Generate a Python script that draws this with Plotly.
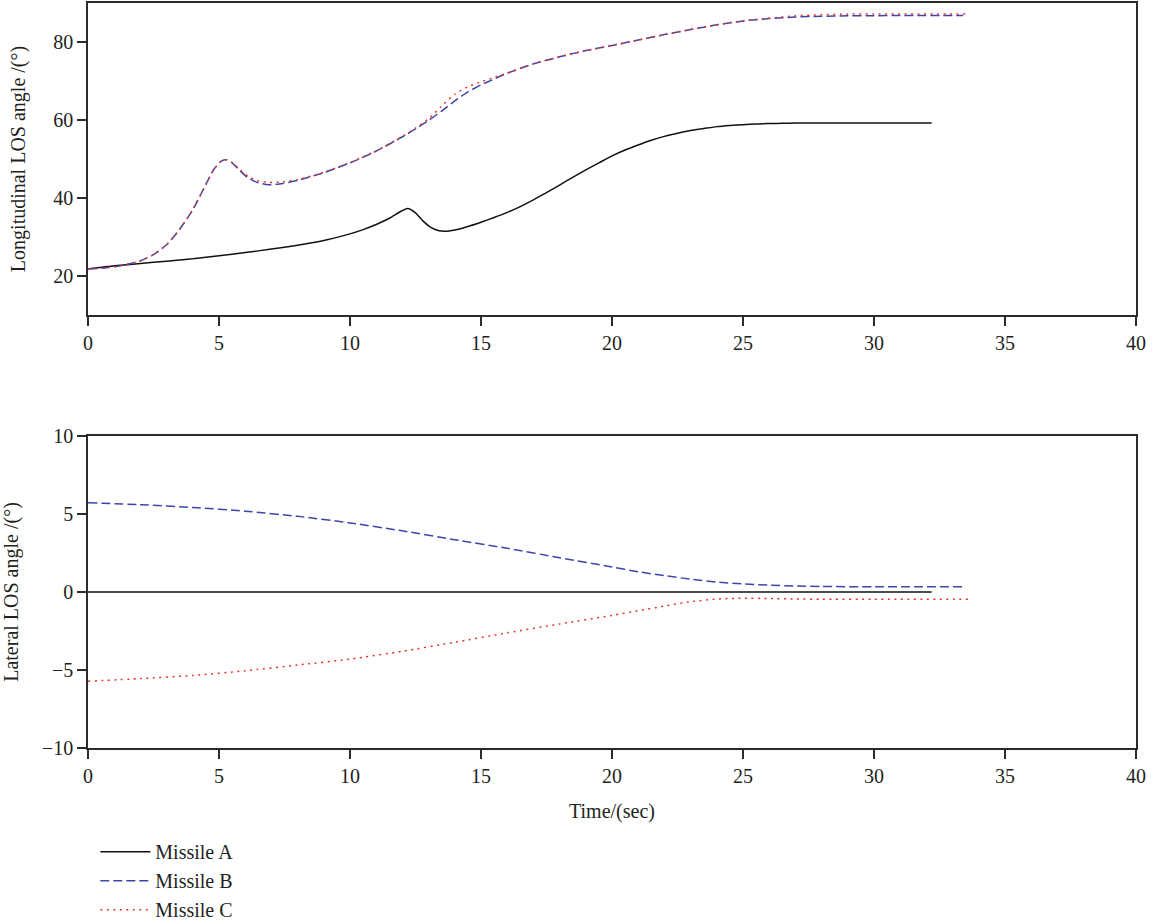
import plotly.graph_objects as go
from plotly.subplots import make_subplots

# ---------------- data ----------------
# Longitudinal LOS angle (deg)
t_a_lon = [0, 1, 2, 3, 4, 5, 6, 7, 8, 9, 10, 10.5, 11, 11.5, 12, 12.2, 12.5, 12.8, 13.1, 13.4,
           13.7, 14, 14.5, 15, 15.5, 16, 16.5, 17, 17.5, 18, 18.5, 19, 19.5, 20, 20.5, 21,
           21.5, 22, 22.5, 23, 23.5, 24, 24.5, 25, 25.5, 26, 26.5, 27, 28, 29, 30, 31, 32.2]
a_lon = [21.8, 22.6, 23.2, 23.8, 24.4, 25.2, 26.0, 26.9, 27.9, 29.1, 30.8, 31.9, 33.2, 34.8,
         36.8, 37.3, 36.2, 34.0, 32.4, 31.6, 31.5, 31.8, 32.7, 33.8, 35.0, 36.3, 37.8, 39.5,
         41.4, 43.3, 45.3, 47.2, 49.0, 50.8, 52.3, 53.6, 54.8, 55.8, 56.6, 57.3, 57.8, 58.3,
         58.6, 58.8, 59.0, 59.1, 59.15, 59.2, 59.2, 59.2, 59.2, 59.2, 59.2]

t_b_lon = [0, 0.5, 1, 1.5, 2, 2.5, 3, 3.5, 4, 4.5, 4.8, 5.1, 5.3, 5.5, 5.8, 6.1, 6.5, 6.9, 7.3,
           8, 9, 10, 11, 12, 12.5, 13, 13.5, 14, 14.5, 15, 15.5, 16, 17, 18, 19, 20, 21, 22,
           23, 24, 25, 26, 27, 28, 29, 30, 31, 33.4]
b_lon = [21.8, 22.0, 22.4, 23.0, 23.9, 25.5, 28.0, 32.0, 37.0, 43.5, 47.3, 49.5, 49.8, 49.0,
         47.0, 45.2, 43.9, 43.4, 43.6, 44.5, 46.5, 49.0, 52.0, 55.7, 57.7, 59.9, 62.3, 64.9,
         67.2, 69.0, 70.5, 72.0, 74.4, 76.2, 77.8, 79.1, 80.5, 81.9, 83.2, 84.4, 85.4, 86.0,
         86.4, 86.6, 86.7, 86.75, 86.8, 86.8]

t_c_lon = [0, 0.5, 1, 1.5, 2, 2.5, 3, 3.5, 4, 4.5, 4.8, 5.1, 5.3, 5.5, 5.8, 6.1, 6.5, 6.9, 7.3,
           8, 9, 10, 11, 12, 12.5, 13, 13.5, 14, 14.5, 15, 15.5, 16, 17, 18, 19, 20, 21, 22,
           23, 24, 25, 26, 27, 28, 29, 30, 33.5]
c_lon = [21.8, 22.0, 22.4, 23.0, 23.9, 25.5, 28.0, 32.0, 37.0, 43.5, 47.3, 49.5, 49.8, 49.1,
         47.3, 45.6, 44.4, 44.0, 44.1, 44.7, 46.6, 49.1, 52.1, 55.8, 57.9, 60.3, 63.6, 66.6,
         68.5, 69.8, 70.9, 72.0, 74.4, 76.2, 77.8, 79.1, 80.5, 81.9, 83.2, 84.4, 85.4, 86.1,
         86.7, 87.0, 87.15, 87.2, 87.2]

# Lateral LOS angle (deg)
t_a_lat = [0, 32.2]
a_lat = [0, 0]

t_b_lat = [0, 2, 4, 6, 8, 10, 12, 14, 16, 18, 20, 21, 22, 23, 24, 25, 26, 27, 28, 30, 33.4]
b_lat = [5.72, 5.6, 5.42, 5.18, 4.85, 4.43, 3.92, 3.35, 2.8, 2.2, 1.6, 1.3, 1.05, 0.82, 0.63,
         0.52, 0.44, 0.38, 0.35, 0.34, 0.34]

t_c_lat = [0, 2, 4, 6, 8, 10, 12, 14, 16, 18, 20, 21, 22, 23, 24, 25, 26, 27, 28, 30, 33.7]
c_lat = [-5.72, -5.55, -5.35, -5.05, -4.68, -4.3, -3.8, -3.22, -2.62, -2.05, -1.5, -1.2, -0.9,
         -0.62, -0.45, -0.4, -0.42, -0.45, -0.46, -0.46, -0.46]

names = ["Missile A", "Missile B", "Missile C"]
x_ticks = [0, 5, 10, 15, 20, 25, 30, 35, 40]
lon_ticks = [20, 40, 60, 80]
lat_ticks = [-10, -5, 0, 5, 10]

# ---------------- styles ----------------
FONT = "Liberation Serif"
FS = 20
TXT = "#231f20"
AX = "#2b2b2b"
styles = [
    dict(color="#111111", width=1.5, dash="solid"),
    dict(color="#3b46a8", width=1.5, dash="9px,4px"),
    dict(color="#e8342b", width=1.5, dash="2px,4.5px"),
]

fig = make_subplots(rows=2, cols=1, vertical_spacing=0.0)

series_top = [(t_a_lon, a_lon), (t_b_lon, b_lon), (t_c_lon, c_lon)]
series_bot = [(t_a_lat, a_lat), (t_b_lat, b_lat), (t_c_lat, c_lat)]

for i, (x, y) in enumerate(series_top):
    fig.add_trace(go.Scatter(x=x, y=y, mode="lines", name=names[i], showlegend=False,
                             line=dict(**styles[i], shape="spline", smoothing=0.6)),
                  row=1, col=1)
for i, (x, y) in enumerate(series_bot):
    fig.add_trace(go.Scatter(x=x, y=y, mode="lines", name=names[i], showlegend=True,
                             line=dict(**styles[i], shape="spline", smoothing=0.6)),
                  row=2, col=1)

axis_common = dict(showline=True, linecolor=AX, linewidth=1.5, mirror=True,
                   ticks="outside", ticklen=9, tickwidth=1.5, tickcolor=AX,
                   showgrid=False, zeroline=False,
                   tickfont=dict(family=FONT, size=FS, color=TXT))

H = 924
top_px, bot_px = 3, 748
plot_h = bot_px - top_px
d1 = (bot_px - 315) / plot_h
d2 = (bot_px - 436) / plot_h
title_font = dict(family=FONT, size=FS, color=TXT)

fig.update_layout(
    width=1154, height=924,
    margin=dict(l=88, r=18, t=top_px, b=H - bot_px, autoexpand=False),
    paper_bgcolor="white", plot_bgcolor="white",
    font=dict(family=FONT, size=FS, color=TXT),
    xaxis=dict(domain=[0, 1], range=[0, 40], tickvals=x_ticks, anchor="y", **axis_common),
    yaxis=dict(domain=[d1, 1], range=[10, 90], tickvals=lon_ticks, anchor="x",
               title=dict(text="Longitudinal LOS angle /(°)", standoff=22, font=title_font),
               **axis_common),
    xaxis2=dict(domain=[0, 1], range=[0, 40], tickvals=x_ticks, anchor="y2",
                title=dict(text="Time/(sec)", standoff=18, font=title_font),
                **axis_common),
    yaxis2=dict(domain=[0, d2], range=[-10, 10], tickvals=lat_ticks, anchor="x2",
                title=dict(text="Lateral LOS angle /(°)", standoff=22, font=title_font),
                **axis_common),
    legend=dict(x=0.007, y=-0.113, xanchor="left", yanchor="top",
                orientation="v", itemwidth=50, tracegroupgap=0,
                font=dict(family=FONT, size=FS, color=TXT),
                bgcolor="rgba(0,0,0,0)"),
)

fig.write_html("out.html")
